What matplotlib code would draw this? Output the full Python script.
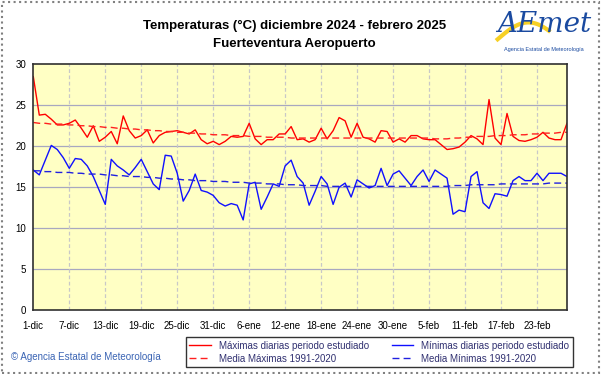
import matplotlib
matplotlib.use('Agg')
import matplotlib.pyplot as plt
from matplotlib.patches import Rectangle
import numpy as np

# Daily data 1-dic-2024 .. 28-feb-2025 (90 days)
tmax = [28.5, 23.8, 23.9, 23.3, 22.6, 22.6, 22.8, 23.2, 22.2, 21.1,
        22.5, 20.6, 21.1, 21.8, 20.3, 23.7, 21.9, 21.0, 21.3, 22.0,
        20.4, 21.3, 21.7, 21.8, 21.9, 21.7, 21.5, 22.0, 20.8, 20.3,
        20.6, 20.2, 20.6, 21.2, 21.1, 21.2, 22.8, 20.9, 20.2, 20.8,
        20.8, 21.5, 21.5, 22.4, 20.8, 20.9, 20.5, 20.8, 22.2, 20.9,
        21.9, 23.5, 23.1, 21.1, 22.8, 21.1, 20.9, 20.5, 21.9, 21.8,
        20.5, 20.9, 20.5, 21.3, 21.3, 20.9, 20.8, 20.8, 20.2, 19.6,
        19.7, 19.9, 20.5, 21.3, 20.9, 20.2, 25.7, 21.0, 20.2, 24.0,
        21.2, 20.7, 20.6, 20.8, 21.1, 21.7, 21.0, 20.8, 20.8, 22.8]

tmin = [17.1, 16.5, 18.3, 20.1, 19.6, 18.6, 17.3, 18.5, 18.4, 17.6,
        16.3, 14.6, 12.9, 18.4, 17.6, 17.1, 16.5, 17.4, 18.4, 16.9,
        15.4, 14.7, 18.9, 18.8, 16.7, 13.3, 14.6, 16.6, 14.6, 14.4,
        14.0, 13.1, 12.7, 13.0, 12.8, 11.0, 15.4, 15.6, 12.3, 13.8,
        15.4, 15.1, 17.6, 18.3, 16.3, 15.5, 12.8, 14.5, 16.3, 15.4,
        12.9, 15.0, 15.5, 13.8, 15.9, 15.4, 14.9, 15.2, 17.3, 15.2,
        16.6, 17.0, 16.1, 15.2, 16.3, 17.1, 15.7, 17.1, 16.6, 16.1,
        11.7, 12.2, 12.0, 16.3, 16.9, 13.1, 12.4, 14.2, 14.1, 13.9,
        15.8, 16.3, 15.8, 15.8, 16.7, 15.8, 16.7, 16.7, 16.7, 16.3]

# 1991-2020 daily normals
norm_max = [22.9, 22.8, 22.8, 22.7, 22.7, 22.7, 22.6, 22.6, 22.5, 22.5,
            22.4, 22.4, 22.3, 22.3, 22.2, 22.2, 22.1, 22.1, 22.0, 22.0,
            21.9, 21.9, 21.8, 21.8, 21.7, 21.7, 21.6, 21.6, 21.5, 21.5,
            21.4, 21.4, 21.4, 21.3, 21.3, 21.3, 21.2, 21.2, 21.2, 21.1,
            21.1, 21.1, 21.1, 21.0, 21.0, 21.0, 21.0, 21.0, 21.0, 21.0,
            21.0, 21.0, 21.0, 21.0, 21.0, 21.0, 21.0, 21.0, 21.0, 21.0,
            21.0, 21.0, 21.0, 21.0, 21.0, 21.0, 21.0, 20.9, 20.9, 20.9,
            21.0, 21.0, 21.1, 21.1, 21.2, 21.2, 21.2, 21.3, 21.3, 21.3,
            21.4, 21.4, 21.4, 21.5, 21.5, 21.6, 21.6, 21.6, 21.7, 21.7]

norm_min = [17.0, 17.0, 16.9, 16.9, 16.8, 16.8, 16.8, 16.7, 16.7, 16.6,
            16.6, 16.6, 16.5, 16.5, 16.4, 16.4, 16.3, 16.3, 16.3, 16.2,
            16.2, 16.1, 16.1, 16.0, 16.0, 15.9, 15.9, 15.8, 15.8, 15.8,
            15.7, 15.7, 15.7, 15.6, 15.6, 15.6, 15.5, 15.5, 15.5, 15.4,
            15.4, 15.4, 15.3, 15.3, 15.3, 15.2, 15.2, 15.2, 15.2, 15.1,
            15.1, 15.1, 15.1, 15.1, 15.1, 15.1, 15.1, 15.1, 15.1, 15.1,
            15.1, 15.1, 15.1, 15.1, 15.1, 15.1, 15.1, 15.1, 15.1, 15.1,
            15.2, 15.2, 15.2, 15.3, 15.3, 15.3, 15.3, 15.3, 15.4, 15.4,
            15.4, 15.4, 15.4, 15.4, 15.4, 15.4, 15.5, 15.5, 15.5, 15.5]

xlabels = ['1-dic', '7-dic', '13-dic', '19-dic', '25-dic', '31-dic', '6-ene',
           '12-ene', '18-ene', '24-ene', '30-ene', '5-feb', '11-feb',
           '17-feb', '23-feb']

plt.rcParams['font.family'] = ['Liberation Sans', 'DejaVu Sans']

fig = plt.figure(figsize=(6.01, 3.74), dpi=100)
fig.patch.set_facecolor('white')
ax = fig.add_axes([0.0554, 0.171, 0.888, 0.657])
ax.set_facecolor('#ffffc4')

days = np.arange(len(tmax))
ax.plot(days, tmax, color='#ff0000', lw=1.0,
        label='Máximas diarias periodo estudiado')
ax.plot(days, norm_max, color='#ff2020', lw=1.0, ls=(0, (5, 3)),
        label='Media Máximas 1991-2020')
ax.plot(days, tmin, color='#1010ff', lw=1.0,
        label='Mínimas diarias periodo estudiado')
ax.plot(days, norm_min, color='#2020e0', lw=1.0, ls=(0, (5, 3)),
        label='Media Mínimas 1991-2020')

ax.set_xlim(0, len(tmax) - 1)
ax.set_ylim(0, 30)
ax.set_yticks(np.arange(0, 31, 5))
ax.set_xticks(np.arange(0, len(tmax), 6))
ax.set_xticklabels(xlabels)
ax.tick_params(length=0, labelsize=7, pad=8)
ax.tick_params(axis='y', pad=5)
for y in range(5, 30, 5):
    ax.axhline(y, color='#a8a8c0', lw=0.9, zorder=1)
for x in range(6, len(tmax), 6):
    ax.axvline(x, color='#c8c8c8', lw=0.9, ls=(0, (3, 2)), zorder=1)
for s in ax.spines.values():
    s.set_color('#303030')
    s.set_linewidth(1.2)

fig.text(0.49, 0.930, 'Temperaturas (°C) diciembre 2024 - febrero 2025',
         ha='center', va='center', fontsize=9.5, fontweight='bold')
fig.text(0.49, 0.882, 'Fuerteventura Aeropuerto',
         ha='center', va='center', fontsize=9.5, fontweight='bold')

# logo
fig.text(0.905, 0.935, 'AEmet', ha='center', va='center', fontsize=20,
         color='#1a4aa0', style='italic', family=['DejaVu Serif'])
t = np.linspace(0, 1, 30)
fig.add_artist(plt.Line2D(0.828 + 0.085 * t, 0.895 + 0.045 * np.sin(t * 2.6),
                          transform=fig.transFigure, color='#f5c800', lw=3,
                          alpha=0.85, zorder=0))
fig.text(0.905, 0.868, 'Agencia Estatal de Meteorología', ha='center',
         va='center', fontsize=4, color='#1a4aa0')
fig.text(0.018, 0.045, '© Agencia Estatal de Meteorología', ha='left',
         va='center', fontsize=7, color='#3a64b4')

leg = fig.legend(loc='center', bbox_to_anchor=(0.631, 0.058), ncol=2,
                 fontsize=7, frameon=True, fancybox=False,
                 handlelength=2.2, columnspacing=2.4, borderpad=0.35,
                 labelspacing=0.3, handletextpad=0.8)
leg.get_frame().set_edgecolor('black')
leg.get_frame().set_linewidth(1.0)
for txt in leg.get_texts():
    txt.set_color('#303070')

fig.patches.append(Rectangle((0.003, 0.004), 0.994, 0.99,
                             transform=fig.transFigure, fill=False,
                             edgecolor='#808080', lw=1.5, ls=':'))

fig.savefig('out.png', dpi=100)
